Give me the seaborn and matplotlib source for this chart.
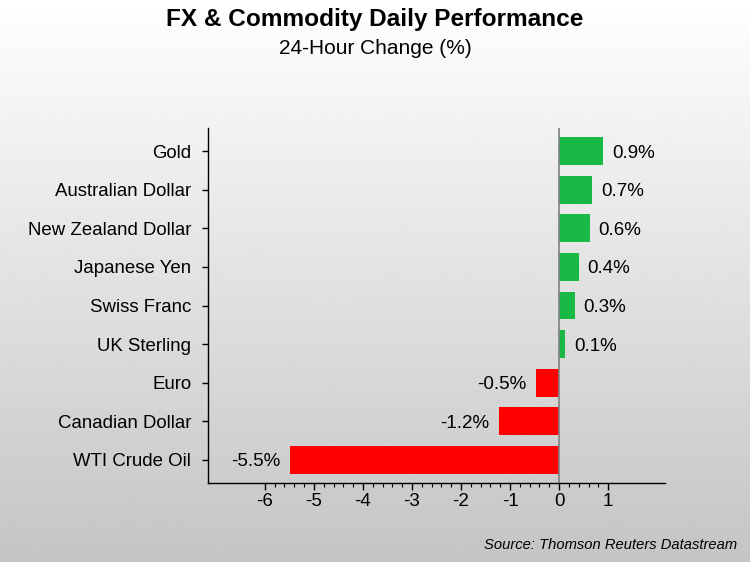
import numpy as np
import pandas as pd
import matplotlib
matplotlib.use('Agg')
import matplotlib.pyplot as plt
from matplotlib.ticker import FixedLocator
import seaborn as sns

# data
assets = ['Gold', 'Australian Dollar', 'New Zealand Dollar', 'Japanese Yen',
          'Swiss Franc', 'UK Sterling', 'Euro', 'Canadian Dollar', 'WTI Crude Oil']
changes = [0.90, 0.68, 0.62, 0.40, 0.32, 0.12, -0.47, -1.22, -5.48]
x_ticks = [-6, -5, -4, -3, -2, -1, 0, 1]

GREEN = '#19B946'
RED = '#FF0000'

sns.set_theme(style='white')
plt.rcParams['font.family'] = ['Liberation Sans', 'DejaVu Sans']
plt.rcParams['text.color'] = 'black'
plt.rcParams['xtick.color'] = 'black'
plt.rcParams['ytick.color'] = 'black'

df = pd.DataFrame({'asset': assets, 'change': changes})
df['sign'] = np.where(df['change'] >= 0, 'up', 'down')

fig = plt.figure(figsize=(7.5, 5.62), dpi=100)

# gradient background over the whole figure
bg = fig.add_axes([0, 0, 1, 1], zorder=-10)
grad = np.linspace(1.0, 0.77, 256).reshape(-1, 1)
bg.imshow(grad, aspect='auto', cmap='gray', vmin=0, vmax=1,
          extent=[0, 1, 0, 1])
bg.set_axis_off()

ax = fig.add_axes([0.2773, 0.1406, 0.6094, 0.6316])
ax.patch.set_alpha(0)

sns.barplot(data=df, x='change', y='asset', hue='sign',
            palette={'up': GREEN, 'down': RED}, dodge=False,
            width=0.72, legend=False, orient='h', ax=ax, saturation=1,
            edgecolor='none', linewidth=0)

ax.axvline(0, color='#808080', lw=1.2, zorder=1)

for i, v in enumerate(changes):
    if v >= 0:
        ax.text(v + 0.18, i, f'{v:.1f}%', va='center_baseline', ha='left', fontsize=13.5)
    else:
        ax.text(v - 0.2, i, f'{v:.1f}%', va='center_baseline', ha='right', fontsize=13.5)

ax.set_xlim(-7.16, 2.16)
ax.set_ylim(8.6, -0.6)
ax.set_xticks(x_ticks)
ax.set_xticklabels([str(t) for t in x_ticks])
ax.xaxis.set_minor_locator(FixedLocator(np.arange(-6, 1.01, 0.2)))
ax.tick_params(axis='x', which='major', direction='out', length=5, width=1,
               labelsize=13.5, bottom=True, pad=2)
ax.tick_params(axis='x', which='minor', direction='out', length=3, width=0.8,
               bottom=True)
ax.tick_params(axis='y', direction='out', length=4, width=1,
               labelsize=13.4, left=True, pad=8)
ax.set_xlabel('')
ax.set_ylabel('')
for s in ['top', 'right']:
    ax.spines[s].set_visible(False)
for s in ['left', 'bottom']:
    ax.spines[s].set_color('black')
    ax.spines[s].set_linewidth(1)

fig.text(0.5, 0.966, 'FX & Commodity Daily Performance', ha='center', va='center',
         fontsize=17.6, fontweight='bold')
fig.text(0.5, 0.913, '24-Hour Change (%)', ha='center', va='center', fontsize=15)
fig.text(0.983, 0.018, 'Source: Thomson Reuters Datastream', ha='right', va='bottom',
         fontsize=10.6, style='italic')

fig.savefig('out.png', dpi=100)
